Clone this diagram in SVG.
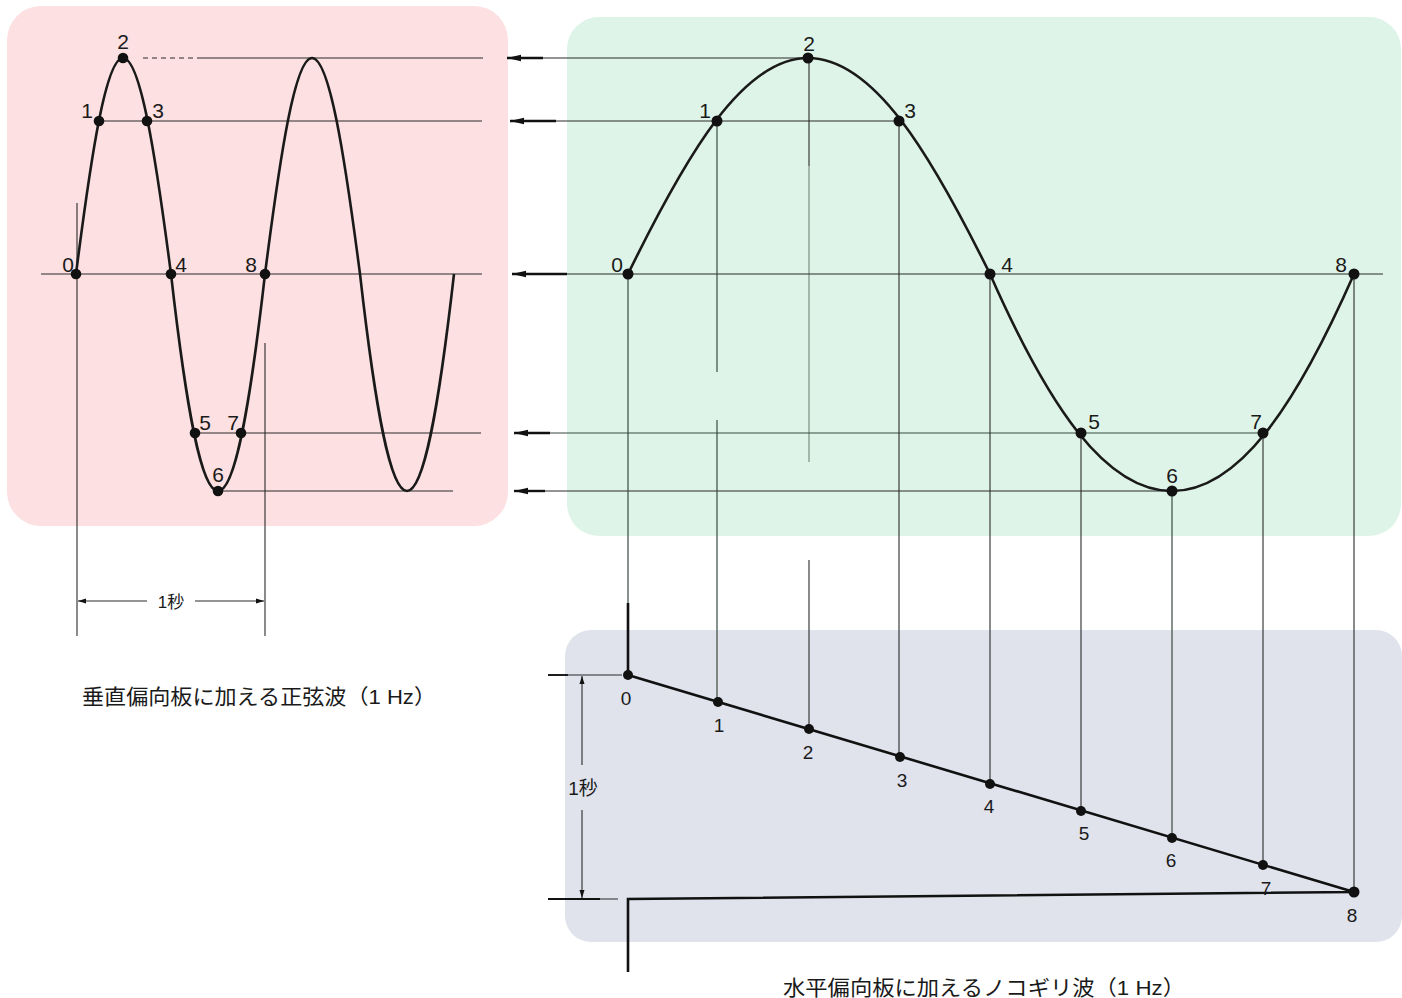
<svg xmlns="http://www.w3.org/2000/svg" width="1402" height="998" viewBox="0 0 1402 998">
<style>
.num{font-family:"Liberation Sans","DejaVu Sans",sans-serif;font-size:21px;fill:#1a1a1a;text-anchor:middle}
.snum{font-family:"Liberation Sans","DejaVu Sans",sans-serif;font-size:19px;fill:#1a1a1a;text-anchor:middle}
.jp{font-family:"Liberation Sans","Noto Sans CJK JP",sans-serif;fill:#1a1a1a}
.curve{fill:none;stroke:#1a1a1a;stroke-width:2.6;stroke-linejoin:round}
.thin{fill:none;stroke:#2a2a2a;stroke-width:1.1}
.grid{fill:none;stroke:#3a4a40;stroke-width:1.2}
.thick{fill:none;stroke:#111;stroke-width:2.6}
.dot{fill:#111}
.lead{fill:none;stroke:#111;stroke-width:2.4}
</style>
<defs>
<marker id="ah" viewBox="0 0 14 8" refX="0" refY="4" markerWidth="14" markerHeight="8" markerUnits="userSpaceOnUse" orient="auto">
<path d="M0,4 L14,0.8 L14,7.2 Z" fill="#111"/>
</marker>
<marker id="dim" viewBox="0 0 8 6" refX="8" refY="3" markerWidth="8" markerHeight="6" markerUnits="userSpaceOnUse" orient="auto-start-reverse">
<path d="M8,3 L0,0.5 L0,5.5 Z" fill="#111"/>
</marker>
</defs>
<rect width="1402" height="998" fill="#ffffff"/>

<!-- Panels -->
<g id="panel-sine">
<rect x="7" y="6" width="501" height="520" rx="34" fill="#fde0e1"/>
</g>
<g id="panel-projection">
<rect x="567" y="17" width="834" height="519" rx="32" fill="#dff4e8"/>
</g>
<g id="panel-sawtooth">
<rect x="565" y="630" width="837" height="312" rx="26" fill="#e0e3ec"/>
</g>

<!-- Connectors / guide lines -->
<g id="connectors">
<!-- left panel horizontals -->
<line class="thin" x1="143" y1="58" x2="200" y2="58" stroke-dasharray="5 4"/>
<line class="thin" x1="200" y1="58" x2="483" y2="58"/>
<line class="thin" x1="99" y1="121" x2="482" y2="121"/>
<line class="thin" x1="41" y1="274" x2="482" y2="274"/>
<line class="thin" x1="195" y1="433" x2="481" y2="433"/>
<line class="thin" x1="218" y1="491" x2="453" y2="491"/>
<!-- left verticals and 1s dimension -->
<line class="thin" x1="77" y1="203" x2="77" y2="636"/>
<line class="thin" x1="265" y1="343" x2="265" y2="636"/>
<line class="thin" x1="78" y1="601" x2="147" y2="601" marker-start="url(#dim)"/>
<line class="thin" x1="195" y1="601" x2="264" y2="601" marker-end="url(#dim)"/>

<!-- transfer arrows into projection panel -->
<line class="thin" x1="507" y1="58" x2="808" y2="58"/>
<line class="lead" x1="507" y1="58" x2="543" y2="58" marker-start="url(#ah)"/>
<line class="thin" x1="510" y1="121" x2="899" y2="121"/>
<line class="lead" x1="510" y1="121" x2="556" y2="121" marker-start="url(#ah)"/>
<line class="thin" x1="512" y1="274" x2="1383" y2="274"/>
<line class="lead" x1="512" y1="274" x2="567" y2="274" marker-start="url(#ah)"/>
<line class="grid" x1="514" y1="433" x2="1263" y2="433"/>
<line class="lead" x1="514" y1="433" x2="550" y2="433" marker-start="url(#ah)"/>
<line class="thin" x1="514" y1="491" x2="1172" y2="491"/>
<line class="lead" x1="514" y1="491" x2="545" y2="491" marker-start="url(#ah)"/>

<!-- vertical projections down to sawtooth -->
<line class="grid" x1="628" y1="274" x2="628" y2="603"/>
<line class="grid" x1="717" y1="121" x2="717" y2="372"/>
<line class="grid" x1="717" y1="420" x2="717" y2="702"/>
<line class="thin" x1="809" y1="58" x2="809" y2="166" stroke-width="1.5"/>
<line class="grid" x1="809" y1="166" x2="809" y2="462" stroke-opacity="0.6"/>
<line class="thin" x1="809" y1="560" x2="809" y2="729"/>
<line class="thin" x1="899" y1="121" x2="899" y2="757"/>
<line class="thin" x1="990" y1="274" x2="990" y2="784" stroke-width="1.4"/>
<line class="thin" x1="1081" y1="433" x2="1081" y2="811"/>
<line class="grid" x1="1172" y1="491" x2="1172" y2="838"/>
<line class="thin" x1="1263" y1="433" x2="1263" y2="865"/>
<line class="thin" x1="1354" y1="274" x2="1354" y2="892" stroke-width="1.4"/>

<!-- right 1s dimension -->
<line class="thin" x1="548" y1="675" x2="622" y2="675"/>
<line x1="548" y1="675" x2="568" y2="675" stroke="#111" stroke-width="1.8"/>
<line class="thin" x1="548" y1="899" x2="618" y2="899"/>
<line x1="548" y1="899" x2="600" y2="899" stroke="#111" stroke-width="2"/>
<line class="thin" x1="582" y1="676" x2="582" y2="765" marker-start="url(#dim)"/>
<line class="thin" x1="582" y1="810" x2="582" y2="898" marker-end="url(#dim)"/>
</g>

<!-- Sine wave applied to vertical plates -->
<g id="sine-wave">
<path class="curve" d="M76,274 C91.3,154.1 106,58 123,58 C140.4,58 155.4,154.1 171,274 C186.3,408.5 201,491 218,491 C235,491 249.7,408.5 265,274 C280.3,154.1 295,58 312,58 C329.4,58 344.4,154.1 360,274 C375.3,408.5 390,491 407,491 C424,491 438.7,408.5 454,274"/>
<g class="dot">
<circle cx="76" cy="274" r="5.3"/><circle cx="99" cy="121" r="5.3"/><circle cx="123" cy="58" r="5.3"/>
<circle cx="147" cy="121" r="5.3"/><circle cx="171" cy="274" r="5.3"/><circle cx="195" cy="433" r="5.3"/>
<circle cx="218" cy="491" r="5.3"/><circle cx="241" cy="433" r="5.3"/><circle cx="265" cy="274" r="5.3"/>
</g>
<text class="num" x="68" y="272">0</text>
<text class="num" x="87" y="118">1</text>
<text class="num" x="123" y="49">2</text>
<text class="num" x="158" y="118">3</text>
<text class="num" x="181" y="272">4</text>
<text class="num" x="205" y="430">5</text>
<text class="num" x="218" y="482">6</text>
<text class="num" x="233" y="430">7</text>
<text class="num" x="251" y="272">8</text>
<text class="jp" x="171" y="608" font-size="17" text-anchor="middle">1秒</text>
<text class="jp" x="82" y="704" font-size="21" textLength="354" lengthAdjust="spacingAndGlyphs">垂直偏向板に加える正弦波（1 Hz）</text>
</g>

<!-- Projected trace -->
<g id="projected-wave">
<path class="curve" d="M628,274 C686.7,154.1 742.9,58 808,58 C873.9,58 930.7,154.1 990,274 C1049.4,408.5 1106.1,491 1172,491 C1237.9,491 1294.7,408.5 1354,274"/>
<g class="dot">
<circle cx="628" cy="274" r="5.5"/><circle cx="717" cy="121" r="5.5"/><circle cx="808" cy="58" r="5.5"/>
<circle cx="899" cy="121" r="5.5"/><circle cx="990" cy="274" r="5.5"/><circle cx="1081" cy="433" r="5.5"/>
<circle cx="1172" cy="491" r="5.5"/><circle cx="1263" cy="433" r="5.5"/><circle cx="1354" cy="274" r="5.5"/>
</g>
<text class="num" x="617" y="272">0</text>
<text class="num" x="705" y="118">1</text>
<text class="num" x="809" y="51">2</text>
<text class="num" x="910" y="118">3</text>
<text class="num" x="1007" y="272">4</text>
<text class="num" x="1094" y="429">5</text>
<text class="num" x="1172" y="483">6</text>
<text class="num" x="1256" y="429">7</text>
<text class="num" x="1341" y="272">8</text>
</g>

<!-- Sawtooth wave applied to horizontal plates -->
<g id="sawtooth-wave">
<polyline class="thick" points="628,603 628,675 1354,892 628,899 628,972"/>
<g class="dot">
<circle cx="628" cy="675" r="5"/><circle cx="718" cy="702" r="5"/><circle cx="809" cy="729" r="5"/>
<circle cx="900" cy="757" r="5"/><circle cx="990" cy="784" r="5"/><circle cx="1081" cy="811" r="5"/>
<circle cx="1172" cy="838" r="5"/><circle cx="1263" cy="865" r="5"/><circle cx="1354" cy="892" r="5.5"/>
</g>
<text class="snum" x="626" y="705">0</text>
<text class="snum" x="719" y="732">1</text>
<text class="snum" x="808" y="759">2</text>
<text class="snum" x="902" y="787">3</text>
<text class="snum" x="989" y="813">4</text>
<text class="snum" x="1084" y="840">5</text>
<text class="snum" x="1171" y="867">6</text>
<text class="snum" x="1266" y="895">7</text>
<text class="snum" x="1352" y="922">8</text>
<text class="jp" x="583" y="795" font-size="19" text-anchor="middle">1秒</text>
<text class="jp" x="783" y="995" font-size="21" textLength="402" lengthAdjust="spacingAndGlyphs">水平偏向板に加えるノコギリ波（1 Hz）</text>
</g>
</svg>
